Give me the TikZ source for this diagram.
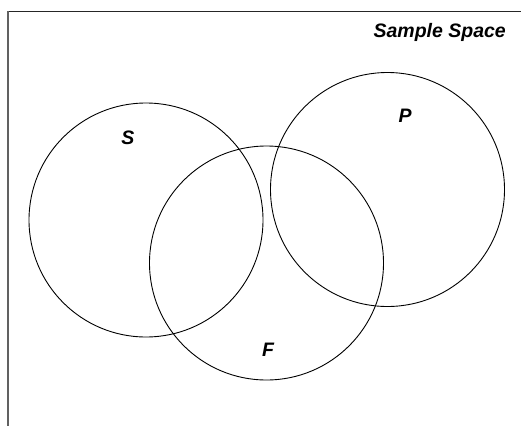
\documentclass[tikz,border=0pt]{standalone}
\usepackage{fontspec}
\setmainfont{Liberation Sans}
\begin{document}
\begin{tikzpicture}[x=1pt,y=-1pt,
  setcircle/.style={draw=black,line width=0.9pt,circle,minimum size=234pt,inner sep=0pt},
  lbl/.style={font=\fontsize{19.5}{21}\selectfont\bfseries\itshape,inner sep=0pt}]
\useasboundingbox (0,0) rectangle (522,426);
\coordinate (tl) at (8,11);
\coordinate (tr) at (521,11);
\coordinate (bl) at (8,426);
\draw[line width=0.9pt,black!85] (tl) -- (tr);
\draw[line width=2pt,black!62] (tl) -- (bl);
\node[setcircle] (S) at (146,220) {};
\node[setcircle] (F) at (266.5,263) {};
\node[setcircle] (P) at (387.5,189.5) {};
\node[lbl] (ls) at (128,138) {S};
\node[lbl] (lp) at (405,116) {P};
\node[lbl] (lf) at (268,350) {F};
\node[lbl,anchor=east] (ss) at (506,32) {Sample Space};
\end{tikzpicture}
\end{document}
